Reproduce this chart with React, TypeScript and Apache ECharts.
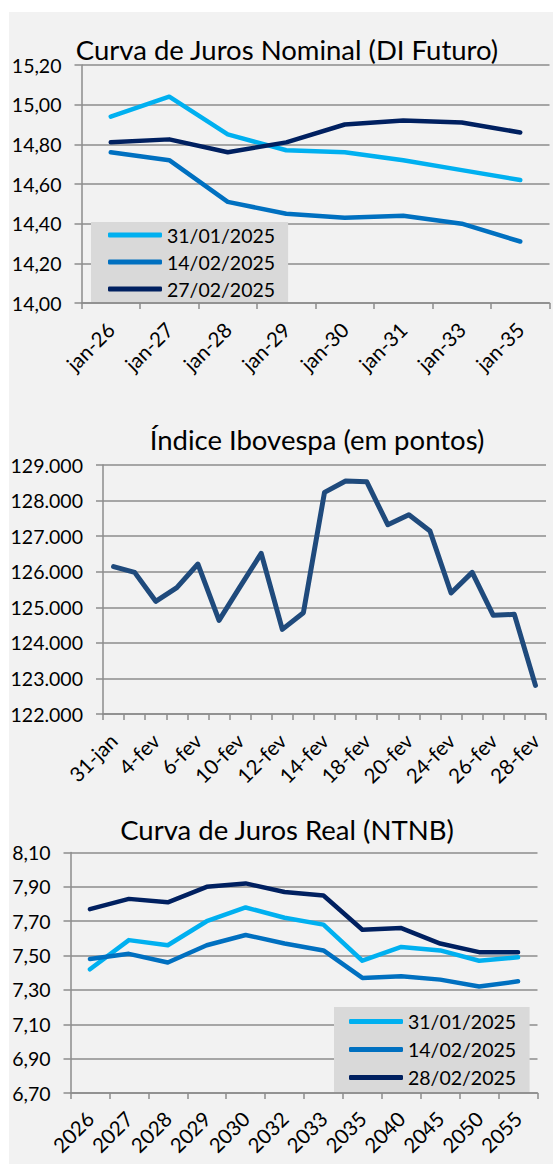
import React, { useEffect, useRef } from "react";
import * as echarts from "echarts";

const NOMINAL_CATS = ["jan-26", "jan-27", "jan-28", "jan-29", "jan-30", "jan-31", "jan-33", "jan-35"];
const NOM_3101 = [14.94, 15.04, 14.85, 14.77, 14.76, 14.72, 14.67, 14.62];
const NOM_1402 = [14.76, 14.72, 14.51, 14.45, 14.43, 14.44, 14.4, 14.31];
const NOM_2702 = [14.81, 14.825, 14.76, 14.81, 14.9, 14.92, 14.91, 14.86];

const IBOV_DATES = [
  "31-jan", "3-fev", "4-fev", "5-fev", "6-fev", "7-fev", "10-fev", "11-fev", "12-fev", "13-fev",
  "14-fev", "17-fev", "18-fev", "19-fev", "20-fev", "21-fev", "24-fev", "25-fev", "26-fev", "27-fev", "28-fev",
];
const IBOV = [
  126142, 125982, 125167, 125551, 126216, 124632, 125579, 126516, 124380, 124848,
  128231, 128550, 128531, 127322, 127604, 127144, 125401, 125982, 124773, 124801, 122805,
];

const REAL_CATS = ["2026", "2027", "2028", "2029", "2030", "2032", "2033", "2035", "2040", "2045", "2050", "2055"];
const REAL_3101 = [7.42, 7.59, 7.56, 7.7, 7.78, 7.72, 7.68, 7.47, 7.55, 7.53, 7.47, 7.49];
const REAL_1402 = [7.48, 7.51, 7.46, 7.56, 7.62, 7.57, 7.53, 7.37, 7.38, 7.36, 7.32, 7.35];
const REAL_2802 = [7.77, 7.83, 7.81, 7.9, 7.92, 7.87, 7.85, 7.65, 7.66, 7.57, 7.52, 7.52];
const REAL_BASE = 6.7;

const C_LIGHT = "#00b0f0";
const C_MID = "#0070c0";
const C_DARK = "#002060";
const C_IBOV = "#1f4a7c";

const FONT = "Lato";
const GRID_COLOR = "#8c8c8c";

function fmtComma(v: number) {
  return v.toFixed(2).replace(".", ",");
}
function fmtThousands(v: number) {
  return Math.round(v).toString().replace(/\B(?=(\d{3})+(?!\d))/g, ".");
}

function catAxis(gridIndex: number, data: string[], labelInterval: number, margin: number) {
  return {
    type: "category",
    gridIndex,
    data,
    boundaryGap: true,
    axisLine: { show: true, lineStyle: { color: GRID_COLOR, width: 1.5 } },
    axisTick: { show: true, interval: 0, length: 6, lineStyle: { color: GRID_COLOR, width: 1.5 } },
    axisLabel: {
      interval: labelInterval,
      rotate: 45,
      margin,
      fontFamily: FONT,
      fontSize: 20.5,
      color: "#000",
    },
    splitLine: { show: false },
  };
}

function valAxis(gridIndex: number, min: number, max: number, interval: number, formatter: (v: number) => string) {
  return {
    type: "value",
    gridIndex,
    min,
    max,
    interval,
    axisLine: { show: true, lineStyle: { color: GRID_COLOR, width: 1.5 } },
    axisTick: { show: true, inside: false, length: 7, lineStyle: { color: GRID_COLOR, width: 1.5 } },
    axisLabel: { margin: 20, fontFamily: FONT, fontSize: 19.5, color: "#000", formatter },
    splitLine: { show: true, lineStyle: { color: GRID_COLOR, width: 1.5 } },
  };
}

function lineSeries(name: string, color: string, data: number[], axisIndex: number, width = 4.5) {
  return {
    type: "line",
    name,
    xAxisIndex: axisIndex,
    yAxisIndex: axisIndex,
    data,
    color,
    symbol: "none",
    lineStyle: { color, width, cap: "round", join: "round" },
    itemStyle: { color },
  };
}

export default function App() {
  const ref = useRef<HTMLDivElement>(null);

  useEffect(() => {
    if (!ref.current) return;
    const chart = echarts.init(ref.current, null, { renderer: "svg" });
    const titleStyle = { fontFamily: FONT, fontSize: 27.5, fontWeight: "normal", color: "#000" };
    const legendText = { fontFamily: FONT, fontSize: 19.5, color: "#000", lineHeight: 19 };

    chart.setOption({
      animation: false,
      backgroundColor: "#ffffff",
      graphic: [
        {
          type: "rect",
          z: -10,
          silent: true,
          shape: { x: 9, y: 12, width: 544, height: 1152 },
          style: { fill: "#f2f2f2" },
        },
      ],
      title: [
        { text: "Curva de Juros Nominal (DI Futuro)", left: 287, top: 35, textAlign: "center", padding: 0, textStyle: titleStyle },
        { text: "Índice Ibovespa (em pontos)", left: 317, top: 425, textAlign: "center", padding: 0, textStyle: titleStyle },
        { text: "Curva de Juros Real (NTNB)", left: 287, top: 815, textAlign: "center", padding: 0, textStyle: titleStyle },
      ],
      legend: [
        {
          orient: "vertical",
          left: 91,
          top: 222,
          data: ["31/01/2025", "14/02/2025", "27/02/2025"],
          icon: "roundRect",
          itemWidth: 54,
          itemHeight: 5,
          itemGap: 7,
          padding: [3, 13, 3, 17],
          backgroundColor: "#d9d9d9",
          textStyle: legendText,
          selectedMode: false,
        },
        {
          orient: "vertical",
          left: 334,
          top: 1007,
          data: ["31/01/2025", "14/02/2025", "28/02/2025"],
          icon: "roundRect",
          itemWidth: 54,
          itemHeight: 5,
          itemGap: 8,
          padding: [4.5, 13.5, 4.5, 15],
          backgroundColor: "#d9d9d9",
          textStyle: legendText,
          selectedMode: false,
        },
      ],
      grid: [
        { left: 81.5, top: 65, width: 468, height: 238, containLabel: false },
        { left: 103, top: 465, width: 443, height: 249, containLabel: false },
        { left: 70.5, top: 852.5, width: 467, height: 240.5, containLabel: false },
      ],
      xAxis: [
        catAxis(0, NOMINAL_CATS, 0, 23),
        catAxis(1, IBOV_DATES, 1, 23),
        catAxis(2, REAL_CATS, 0, 22),
      ],
      yAxis: [
        valAxis(0, 14, 15.2, 0.2, fmtComma),
        valAxis(1, 122000, 129000, 1000, fmtThousands),
        valAxis(2, 0, 1.4, 0.2, (v: number) => fmtComma(v + REAL_BASE)),
      ],
      series: [
        lineSeries("31/01/2025", C_LIGHT, NOM_3101, 0),
        lineSeries("14/02/2025", C_MID, NOM_1402, 0),
        lineSeries("27/02/2025", C_DARK, NOM_2702, 0),
        lineSeries("Ibovespa", C_IBOV, IBOV, 1, 5),
        lineSeries("31/01/2025", C_LIGHT, REAL_3101.map((v) => +(v - REAL_BASE).toFixed(4)), 2),
        lineSeries("14/02/2025", C_MID, REAL_1402.map((v) => +(v - REAL_BASE).toFixed(4)), 2),
        lineSeries("28/02/2025", C_DARK, REAL_2802.map((v) => +(v - REAL_BASE).toFixed(4)), 2),
      ],
    });
    return () => chart.dispose();
  }, []);

  return (
    <div
      ref={ref}
      style={{ position: "absolute", left: 0, top: 0, width: 553, height: 1164 }}
    />
  );
}
